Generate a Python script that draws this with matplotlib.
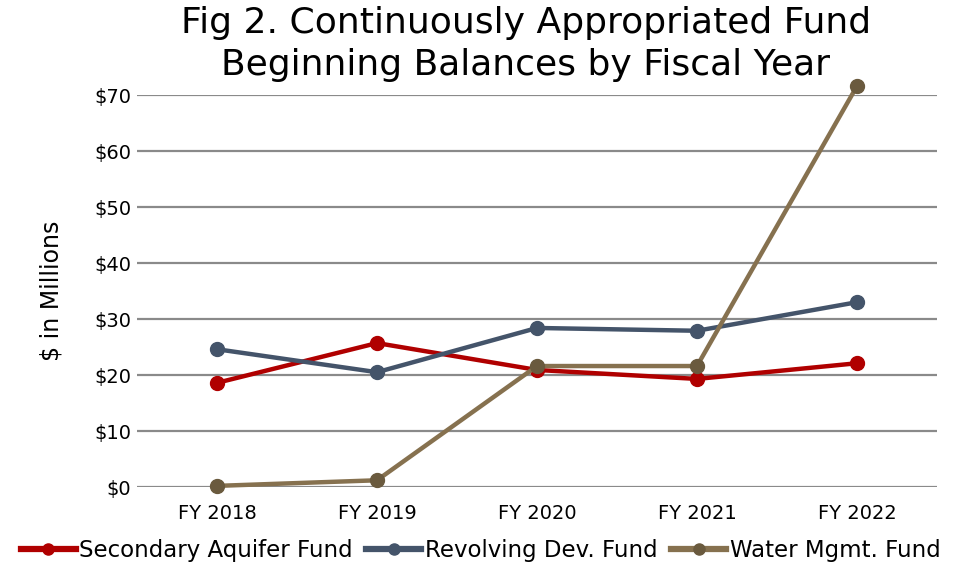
import matplotlib.pyplot as plt

years = ["FY 2018", "FY 2019", "FY 2020", "FY 2021", "FY 2022"]
secondary_aquifer = [18.6, 25.7, 20.9, 19.3, 22.1]
revolving_dev = [24.6, 20.5, 28.4, 27.9, 33.0]
water_mgmt = [0.2, 1.2, 21.6, 21.6, 71.6]
y_ticks = [0, 10, 20, 30, 40, 50, 60, 70]

plt.rcParams["font.family"] = ["DejaVu Sans"]

fig = plt.figure(figsize=(9.61, 5.70), dpi=100)
ax = fig.add_axes([137 / 961, 1 - 487 / 570, 800 / 961, 392 / 570])

x = range(len(years))
series = [
    ("Secondary Aquifer Fund", secondary_aquifer, "#B00000", "#B00000"),
    ("Revolving Dev. Fund", revolving_dev, "#44546A", "#44546A"),
    ("Water Mgmt. Fund", water_mgmt, "#86714F", "#6A5A3E"),
]
for name, vals, lc, mc in series:
    ax.plot(x, vals, color=lc, linewidth=3.2, marker="o", markersize=10,
            markerfacecolor=mc, markeredgecolor=mc, label=name,
            clip_on=False, zorder=3)

ax.set_xlim(-0.5, len(years) - 0.5)
ax.set_ylim(0, 70)
ax.set_yticks(y_ticks)
ax.set_yticklabels([f"${v}" for v in y_ticks])
ax.set_xticks(list(x))
ax.set_xticklabels(years)
ax.tick_params(axis="both", length=0, labelsize=14, colors="black")
ax.tick_params(axis="x", pad=12)
ax.tick_params(axis="y", pad=4)
ax.grid(True, axis="y", color="#8A8A8A", linewidth=1.6)
ax.set_axisbelow(True)
for s in ax.spines.values():
    s.set_visible(False)

ax.set_ylabel("$ in Millions", fontsize=17, labelpad=22)
fig.text(0.547, 0.923, "Fig 2. Continuously Appropriated Fund\nBeginning Balances by Fiscal Year",
         ha="center", va="center", fontsize=26, linespacing=1.32)

leg = fig.legend(loc="lower center", bbox_to_anchor=(0.5, -0.022), ncol=3, frameon=False,
                 fontsize=16.5, handlelength=2.4, handletextpad=0.15, columnspacing=0.6,
                 markerscale=0.8)
for h in leg.legend_handles:
    h.set_linewidth(4.5)

fig.savefig("out.png", dpi=100)
